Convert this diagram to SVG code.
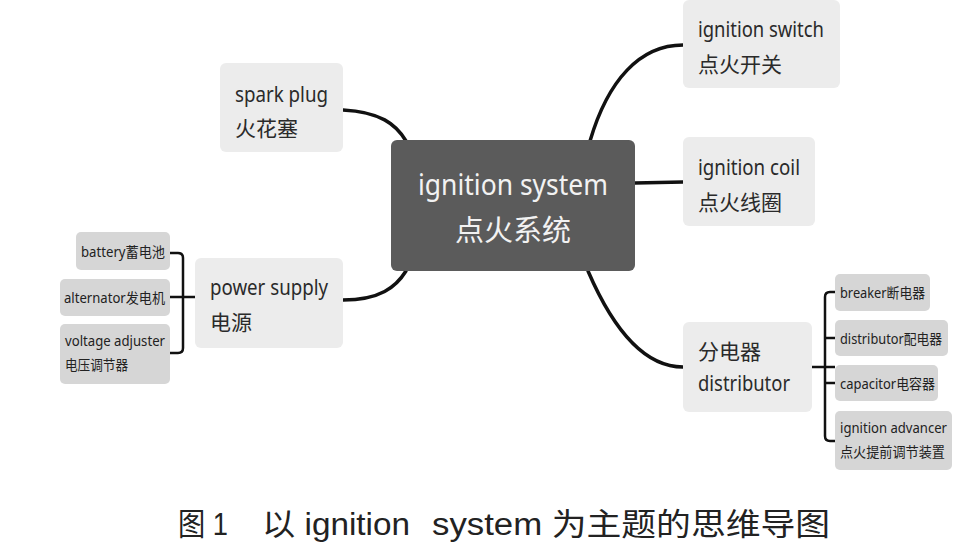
<svg xmlns="http://www.w3.org/2000/svg" width="957" height="549" viewBox="0 0 957 549">
<style>
.n{fill:#ececec}
.s{fill:#d6d6d6}
.t{font-family:"Noto Sans","Noto Sans CJK SC",sans-serif;font-size:21px;fill:#2a2a2a}
.ts{font-family:"Noto Sans","Noto Sans CJK SC",sans-serif;font-size:14px;fill:#222}
.c{fill:none;stroke:#111;stroke-width:3.5;stroke-linecap:round}
.b{fill:none;stroke:#111;stroke-width:2.5}
.cap{font-family:"Liberation Sans","Noto Sans CJK SC",sans-serif;font-size:31px;fill:#222}
</style>
<rect width="957" height="549" fill="#fff"/>
<g id="connectors">
<path class="c" d="M343,110 C380,112 396,124 406,141"/>
<path class="c" d="M590,141 C608,80 640,45 683,45"/>
<path class="c" d="M635,183 L683,182"/>
<path class="c" d="M343,300 C380,300 396,287 406,271"/>
<path class="c" d="M588,271 C610,322 640,367 683,367"/>
<path class="b" d="M170,253 H178 Q183,253 183,258 V348 Q183,353 178,353 H170 M170,297 H195"/>
<path class="b" d="M835,292 H830 Q825,292 825,297 V436 Q825,441 830,441 H835 M812,367 H835 M825,338 H835 M825,383 H835"/>
</g>
<g id="center">
<rect x="391" y="140" width="244" height="131" rx="6" fill="#5b5b5b"/>
<text x="513" y="195" text-anchor="middle" style="font-family:'Noto Sans','Noto Sans CJK SC',sans-serif;font-size:29px;fill:#f2f2f2" textLength="190" lengthAdjust="spacingAndGlyphs">ignition system</text>
<text x="513" y="241" text-anchor="middle" style="font-family:'Noto Sans CJK SC',sans-serif;font-size:29px;fill:#f2f2f2">点火系统</text>
</g>
<g id="spark-plug">
<rect class="n" x="220" y="63" width="123" height="89" rx="6"/>
<text class="t" x="235" y="102" textLength="93" lengthAdjust="spacingAndGlyphs">spark plug</text>
<text class="t" x="235" y="136">火花塞</text>
</g>
<g id="ignition-switch">
<rect class="n" x="683" y="0" width="157" height="88" rx="6"/>
<text class="t" x="698" y="37" textLength="126" lengthAdjust="spacingAndGlyphs">ignition switch</text>
<text class="t" x="698" y="72">点火开关</text>
</g>
<g id="ignition-coil">
<rect class="n" x="683" y="137" width="132" height="89" rx="6"/>
<text class="t" x="698" y="175" textLength="102" lengthAdjust="spacingAndGlyphs">ignition coil</text>
<text class="t" x="698" y="210">点火线圈</text>
</g>
<g id="power-supply">
<rect class="n" x="195" y="258" width="148" height="90" rx="6"/>
<text class="t" x="210" y="295" textLength="118" lengthAdjust="spacingAndGlyphs">power supply</text>
<text class="t" x="210" y="330">电源</text>
</g>
<g id="battery">
<rect class="s" x="76" y="232" width="94" height="38" rx="5"/>
<text class="ts" x="81" y="257" textLength="84" lengthAdjust="spacingAndGlyphs">battery蓄电池</text>
</g>
<g id="alternator">
<rect class="s" x="60" y="279" width="110" height="37" rx="5"/>
<text class="ts" x="64" y="303" textLength="101" lengthAdjust="spacingAndGlyphs">alternator发电机</text>
</g>
<g id="voltage-adjuster">
<rect class="s" x="60" y="324" width="110" height="60" rx="5"/>
<text class="ts" x="65" y="346" textLength="100" lengthAdjust="spacingAndGlyphs">voltage adjuster</text>
<text class="ts" x="65" y="370" textLength="63" lengthAdjust="spacingAndGlyphs">电压调节器</text>
</g>
<g id="distributor">
<rect class="n" x="683" y="322" width="129" height="90" rx="6"/>
<text class="t" x="698" y="359">分电器</text>
<text class="t" x="698" y="391" textLength="92" lengthAdjust="spacingAndGlyphs">distributor</text>
</g>
<g id="breaker">
<rect class="s" x="835" y="274" width="95" height="37" rx="5"/>
<text class="ts" x="840" y="298" textLength="85" lengthAdjust="spacingAndGlyphs">breaker断电器</text>
</g>
<g id="distributor2">
<rect class="s" x="835" y="320" width="113" height="36" rx="5"/>
<text class="ts" x="840" y="344" textLength="102" lengthAdjust="spacingAndGlyphs">distributor配电器</text>
</g>
<g id="capacitor">
<rect class="s" x="835" y="365" width="103" height="36" rx="5"/>
<text class="ts" x="840" y="389" textLength="95" lengthAdjust="spacingAndGlyphs">capacitor电容器</text>
</g>
<g id="ignition-advancer">
<rect class="s" x="835" y="411" width="117" height="59" rx="5"/>
<text class="ts" x="840" y="433" textLength="107" lengthAdjust="spacingAndGlyphs">ignition advancer</text>
<text class="ts" x="840" y="457" textLength="105" lengthAdjust="spacingAndGlyphs">点火提前调节装置</text>
</g>
<g id="caption">
<text class="cap" x="178" y="535" textLength="50" lengthAdjust="spacingAndGlyphs">图 1</text>
<text class="cap" x="262" y="535" textLength="148" lengthAdjust="spacingAndGlyphs">以 ignition</text>
<text class="cap" x="432" y="535" textLength="398" lengthAdjust="spacingAndGlyphs">system 为主题的思维导图</text>
</g>
</svg>
